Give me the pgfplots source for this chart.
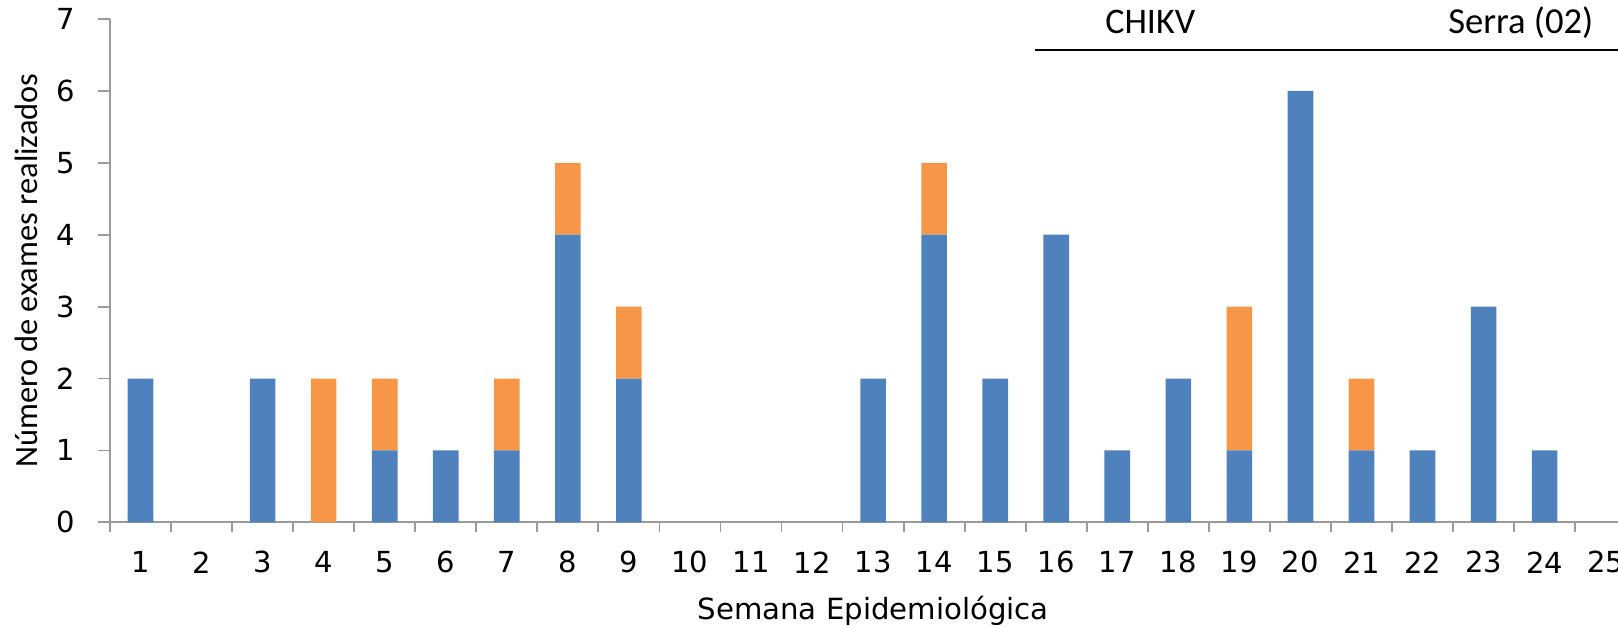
\documentclass[border=0pt]{standalone}
\usepackage{pgfplots}
\pgfplotsset{compat=1.18}
\usepackage{fontspec}
\setmainfont{DejaVu Sans}
\newfontfamily\calfont{Carlito}
\definecolor{cblue}{HTML}{4F81BD}
\definecolor{corange}{HTML}{F79646}
\definecolor{caxis}{HTML}{9A9A9A}
\pgfplotstableread{
x blue orange
1 2 0
3 2 0
4 0 2
5 1 1
6 1 0
7 1 1
8 4 1
9 2 1
13 2 0
14 4 1
15 2 0
16 4 0
17 1 0
18 2 0
19 1 2
20 6 0
21 1 1
22 1 0
23 3 0
24 1 0
}\datatable
\begin{document}
\begin{tikzpicture}
\begin{axis}[
  scale only axis,
  width=763.1pt, height=251.65pt,
  xmin=0.5, xmax=25.5, ymin=0, ymax=7,
  axis lines=left,
  axis line style={-, draw=caxis, line width=0.9pt},
  ybar stacked, bar width=0.42,
  xtick={1,...,25},
  minor xtick={0.5,1.5,...,25.5},
  ytick={0,...,7},
  tick align=outside,
  major tick length=6pt,
  minor tick length=5pt,
  major x tick style={draw=none},
  every tick/.style={draw=caxis, line width=0.9pt},
  /pgf/number format/assume math mode=true,
  ticklabel style={font=\fontsize{14.5}{16}\selectfont, text=black},
  yticklabel style={anchor=center, xshift=-16pt},
  xticklabel style={anchor=center, yshift=-14pt},
  xlabel={Semana Epidemiológica},
  xlabel style={font=\fontsize{14.6}{16}\selectfont, at={(axis description cs:0.5,0)}, anchor=base, yshift=-48.6pt},
  ylabel={Número de exames realizados},
  ylabel style={font=\calfont\fontsize{16.2}{18}\selectfont, at={(axis description cs:0,0.5)}, anchor=base, yshift=36pt},
  clip=false,
]
\addplot[fill=cblue, draw=none] table[x=x, y=blue] {\datatable};
\addplot[fill=corange, draw=none] table[x=x, y=orange] {\datatable};
\draw[black, line width=1.35pt] (axis cs:15.65,6.569) -- (axis cs:25.5,6.569);
\node[anchor=base, inner sep=0pt, font=\calfont\fontsize{18}{20}\selectfont] at (axis cs:17.54,6.801) {CHIKV};
\node[anchor=base, inner sep=0pt, font=\calfont\fontsize{18.3}{20}\selectfont] at (axis cs:23.61,6.801) {Serra (02)};
\coordinate (o) at (rel axis cs:0,0);
\end{axis}
\pgfresetboundingbox
\path[use as bounding box] ([xshift=-55pt,yshift=-52.35pt]o) rectangle ([xshift=754pt,yshift=261.15pt]o);
\end{tikzpicture}
\end{document}
